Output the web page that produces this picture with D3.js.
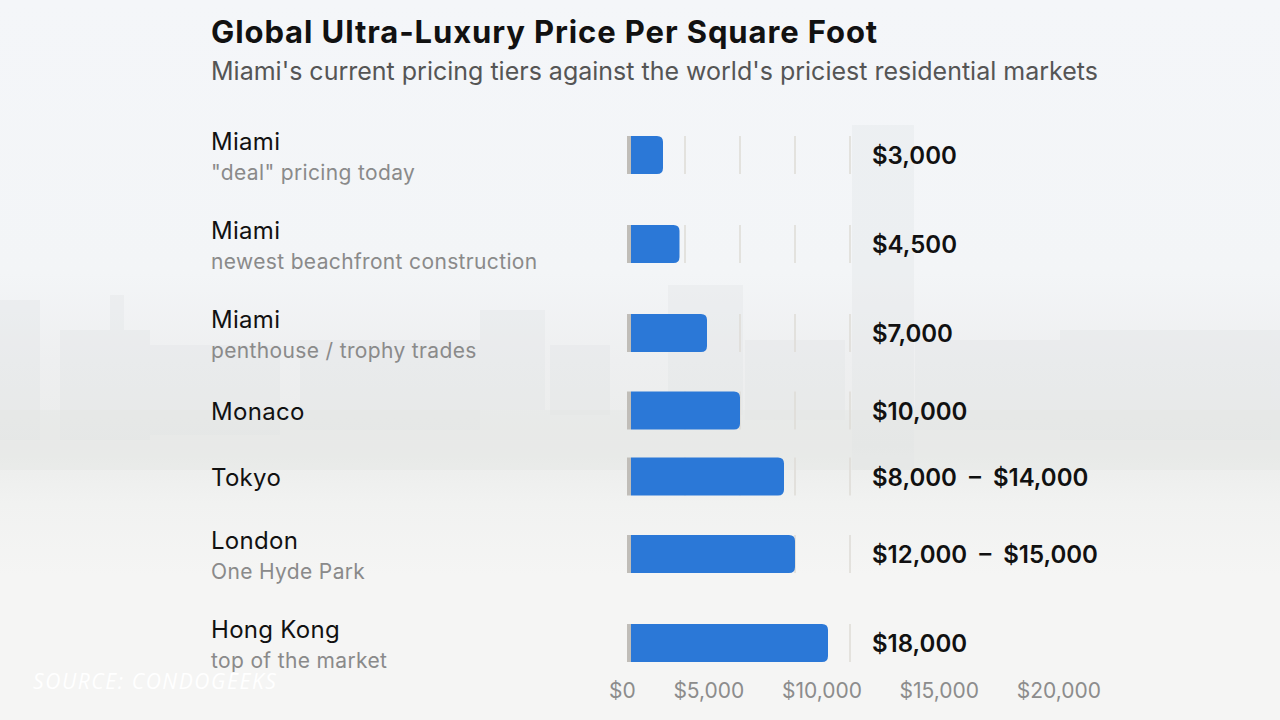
<!DOCTYPE html>
<html>
<head>
<meta charset="utf-8">
<script src="https://cdn.jsdelivr.net/npm/d3@7"></script>
<style>
  html, body { margin: 0; padding: 0; background: #f4f5f6; }
  svg { display: block; font-family: Inter, "Noto Sans", sans-serif; }
</style>
</head>
<body>
<div id="chart"></div>
<script>
// Data
var cities = ["Miami", "Miami", "Miami", "Monaco", "Tokyo", "London", "Hong Kong"];
var notes = ["\"deal\" pricing today", "newest beachfront construction", "penthouse / trophy trades", "", "", "One Hyde Park", "top of the market"];
var lowPrice = [3000, 4500, 7000, 10000, 8000, 12000, 18000];
var highPrice = [3000, 4500, 7000, 10000, 14000, 15000, 18000];
var tickValues = [0, 5000, 10000, 15000, 20000];

var svgWidth = 1280;
var svgHeight = 720;

var rows = cities.map(function(c, i) {
  return { city: c, note: notes[i], low: lowPrice[i], high: highPrice[i] };
});

var svg = d3.select("#chart")
  .append("svg")
  .attr("width", svgWidth)
  .attr("height", svgHeight);

// faded beach photo stand-in
var defs = svg.append("defs");
var grad = defs.append("linearGradient")
  .attr("id", "bg").attr("x1", 0).attr("y1", 0).attr("x2", 0).attr("y2", 1);
[[0, "#f4f6f9"], [0.38, "#f3f5f7"], [0.5, "#eeeff0"], [0.62, "#ebeceb"], [0.7, "#f1f2f1"], [0.8, "#f5f5f4"], [1, "#f5f5f4"]]
  .forEach(function(s) { grad.append("stop").attr("offset", s[0]).attr("stop-color", s[1]); });

svg.append("rect")
  .attr("width", svgWidth).attr("height", svgHeight)
  .attr("fill", "url(#bg)");

var skyline = svg.append("g").attr("fill", "#dfe2e4").attr("opacity", 0.3);
[[0, 300, 40, 140], [60, 330, 90, 110], [110, 295, 14, 40], [150, 345, 130, 90], [300, 340, 180, 90],
 [480, 310, 65, 100], [550, 345, 60, 70], [668, 285, 75, 130], [745, 340, 100, 80],
 [852, 125, 62, 345], [915, 340, 150, 90], [1060, 330, 220, 110]]
  .forEach(function(b) {
    skyline.append("rect").attr("x", b[0]).attr("y", b[1]).attr("width", b[2]).attr("height", b[3]);
  });
svg.append("rect")
  .attr("x", 0).attr("y", 410).attr("width", svgWidth).attr("height", 60)
  .attr("fill", "#e3e6e3").attr("opacity", 0.4);

// Title
svg.append("text")
  .attr("x", 211).attr("y", 43)
  .attr("font-size", 31).attr("font-weight", 700).attr("fill", "#111")
  .attr("letter-spacing", 0.9)
  .text("Global Ultra-Luxury Price Per Square Foot");

svg.append("text")
  .attr("x", 211).attr("y", 80)
  .attr("font-size", 25).attr("fill", "#555")
  .text("Miami's current pricing tiers against the world's priciest residential markets");

// Row layout: rows with a note are taller
var barHeight = 38, tallHeight = 61, rowGap = 28, rowTop = 124.5;
var yCursor = rowTop;
rows.forEach(function(d) {
  var h = d.note ? tallHeight : barHeight;
  d.cy = yCursor + h / 2;
  yCursor += h + rowGap;
});

var xScale = d3.scaleLinear()
  .domain([0, 20000])
  .range([630, 850]);

var fmt = d3.format("$,");

var rowG = svg.append("g").selectAll("g")
  .data(rows)
  .enter()
  .append("g")
  .attr("transform", d => `translate(0,${d.cy})`);

// short gridlines per row
rowG.selectAll("line.grid")
  .data(tickValues.slice(1))
  .enter()
  .append("line")
  .attr("class", "grid")
  .attr("x1", t => xScale(t)).attr("x2", t => xScale(t))
  .attr("y1", -barHeight / 2).attr("y2", barHeight / 2)
  .attr("stroke", "#dedbd6")
  .attr("stroke-width", 1.5);

// bars with rounded right end
var r = 6;
rowG.append("path")
  .attr("fill", "#2b78d7")
  .attr("d", function(d) {
    var x0 = xScale(0) + 1, x1 = xScale(d.high), h = barHeight / 2;
    return `M${x0},${-h}H${x1 - r}Q${x1},${-h} ${x1},${-h + r}V${h - r}Q${x1},${h} ${x1 - r},${h}H${x0}Z`;
  });

rowG.append("rect")
  .attr("x", xScale(0) - 3)
  .attr("y", -barHeight / 2)
  .attr("width", 4)
  .attr("height", barHeight)
  .attr("fill", "#c0bdb8");

// labels
rowG.append("text")
  .attr("x", 211)
  .attr("y", d => d.note ? -5 : 9)
  .attr("font-size", 24).attr("letter-spacing", 0.3).attr("fill", "#111")
  .text(d => d.city);

rowG.filter(d => d.note)
  .append("text")
  .attr("x", 211).attr("y", 25)
  .attr("font-size", 21).attr("letter-spacing", 0.35).attr("fill", "#8a8a8a")
  .text(d => d.note);

rowG.append("text")
  .attr("x", 872).attr("y", 9)
  .attr("font-size", 24).attr("font-weight", 600).attr("fill", "#111")
  .text(d => d.low === d.high ? fmt(d.high) : fmt(d.low) + "\u2002\u2013\u2002" + fmt(d.high));

// axis labels, spread edge to edge
var axisLeft = 609, axisRight = 1101;
var tickText = svg.append("g").selectAll("text")
  .data(tickValues)
  .enter()
  .append("text")
  .attr("y", 698)
  .attr("font-size", 21).attr("fill", "#8c8c8c")
  .text(d => fmt(d));

var widths = [];
tickText.each(function() { widths.push(this.getComputedTextLength()); });
var space = (axisRight - axisLeft - d3.sum(widths)) / (tickValues.length - 1);
var cursor = axisLeft;
tickText.attr("x", function(d, i) {
  var x = cursor;
  cursor += widths[i] + space;
  return x;
});

// source
svg.append("text")
  .attr("x", 33).attr("y", 689)
  .attr("font-size", 21).attr("font-style", "italic").attr("fill", "#fff")
  .attr("font-family", "'Open Sans', sans-serif").attr("letter-spacing", 1.6)
  .text("SOURCE: CONDOGEEKS");
</script>
</body>
</html>
